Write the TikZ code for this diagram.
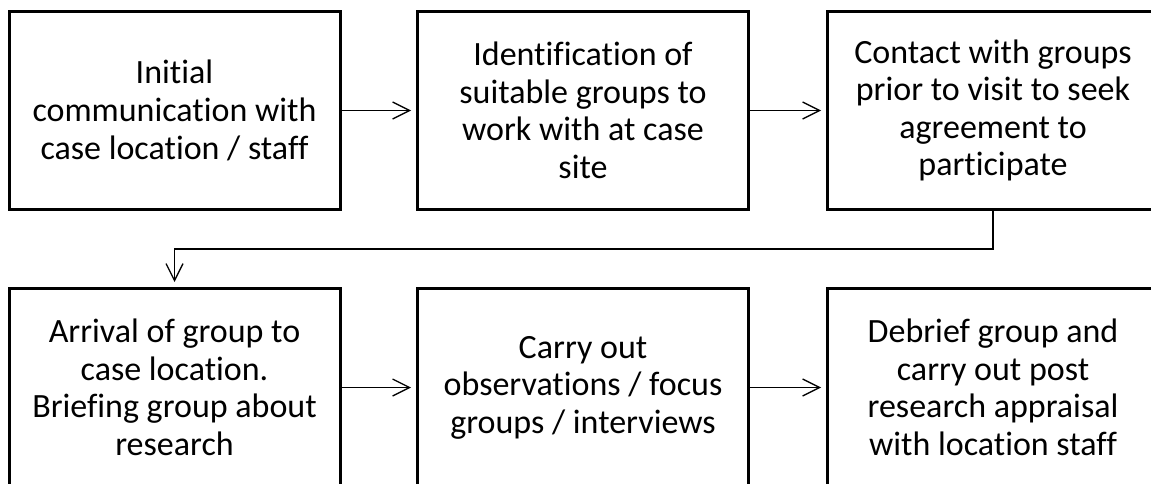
\documentclass[tikz,border=0pt]{standalone}
\usepackage{fontspec}
\setmainfont[Ligatures=NoCommon]{Carlito}
\usetikzlibrary{arrows.meta}
\begin{document}
\begin{tikzpicture}[x=1pt,y=-1pt,
  stepbox/.style={draw=black, line width=3pt, minimum width=331pt, minimum height=198pt,
    inner sep=0pt, align=center, font=\fontsize{34pt}{37.6pt}\selectfont},
  conn/.style={draw=black, line width=1.3pt, -{Straight Barb[length=17pt,width=17pt,line width=1.3pt]}, shorten >=5pt}]
\useasboundingbox (0,0) rectangle (1151,484);
\clip (0,0) rectangle (1151,484);
\node[stepbox] (b1) at (174.5,110.5) {Initial\\communication with\\case location / staff};
\node[stepbox] (b2) at (583,110.5) {Identification of\\suitable groups to\\work with at case\\site};
\node[stepbox] (b3) at (993,110.5) {Contact with groups\\prior to visit to seek\\agreement to\\participate};
\node[stepbox] (b4) at (174.5,387.5) {Arrival of group to\\case location.\\Briefing group about\\research};
\node[stepbox] (b5) at (583,387.5) {Carry out\\observations / focus\\groups / interviews};
\node[stepbox] (b6) at (993,387.5) {Debrief group and\\carry out post\\research appraisal\\with location staff};
\draw[conn] (b1.east) -- (b2.west);
\draw[conn] (b2.east) -- (b3.west);
\draw[conn] (b3.south) -- ++(0,38) -| (b4.north);
\draw[conn] (b4.east) -- (b5.west);
\draw[conn] (b5.east) -- (b6.west);
\end{tikzpicture}
\end{document}
